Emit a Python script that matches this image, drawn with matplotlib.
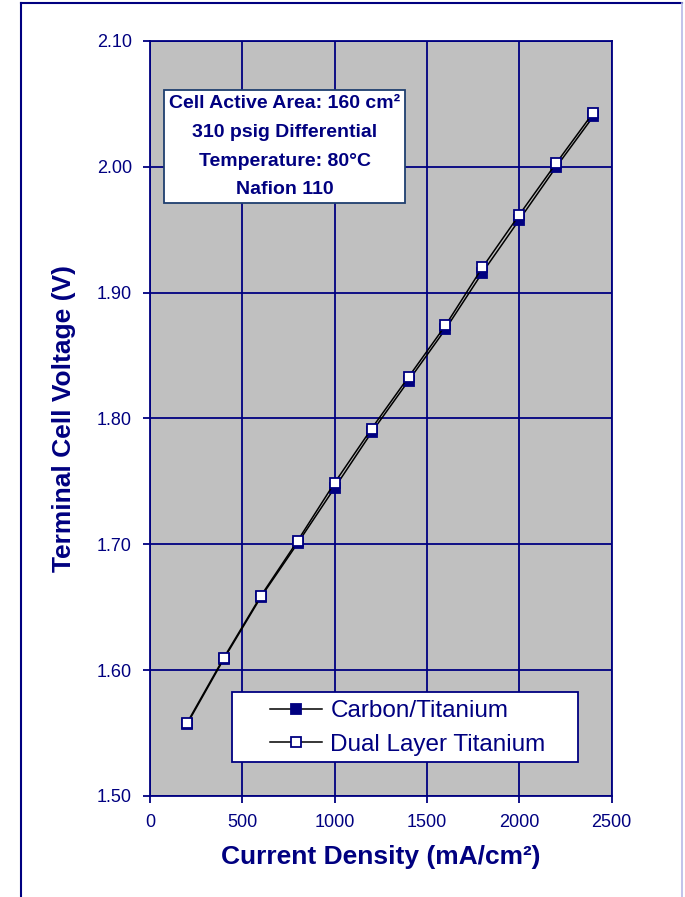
import matplotlib
matplotlib.use("Agg")
import matplotlib.pyplot as plt
from matplotlib.lines import Line2D
from matplotlib.patches import Rectangle

plt.rcParams["font.family"] = ["Liberation Sans", "DejaVu Sans"]

NAVY = "#000080"

current = [200, 400, 600, 800, 1000, 1200, 1400, 1600, 1800, 2000, 2200, 2400]
carbon_ti = [1.557, 1.609, 1.658, 1.701, 1.745, 1.789, 1.830, 1.871, 1.916, 1.958, 2.000, 2.040]
dual_ti = [1.558, 1.610, 1.659, 1.703, 1.749, 1.792, 1.833, 1.874, 1.920, 1.962, 2.003, 2.043]

x_ticks = [0, 500, 1000, 1500, 2000, 2500]
y_ticks = [1.50, 1.60, 1.70, 1.80, 1.90, 2.00, 2.10]

info_lines = ["Cell Active Area: 160 cm\u00b2", "310 psig Differential",
              "Temperature: 80\u00b0C", "Nafion 110"]

fig = plt.figure(figsize=(6.85, 8.97), dpi=100)
ax = fig.add_axes([0.219, 0.1126, 0.674, 0.8417])

# outer frame of the original chart
fig.add_artist(Line2D([0.031, 0.031], [0.0, 0.9967], color=NAVY, lw=1.5))
fig.add_artist(Line2D([0.031, 0.996], [0.9967, 0.9967], color=NAVY, lw=1.5))
fig.add_artist(Line2D([0.996, 0.996], [0.0, 0.9967], color="#b8b8e8", lw=1.2))

ax.set_facecolor("#c0c0c0")
ax.set_xlim(0, 2500)
ax.set_ylim(1.50, 2.10)
ax.set_xticks(x_ticks)
ax.set_yticks(y_ticks)
ax.set_yticklabels([f"{v:.2f}" for v in y_ticks])
ax.grid(True, color=NAVY, lw=1.3, zorder=1)
ax.set_axisbelow(True)
for sp in ax.spines.values():
    sp.set_color(NAVY)
    sp.set_linewidth(1.3)
ax.tick_params(direction="out", color=NAVY, labelcolor=NAVY, labelsize=13,
               length=5, width=1.3, pad=8)

ax.plot(current, carbon_ti, color="black", lw=1.1, marker="s", ms=7,
        mfc=NAVY, mec=NAVY, mew=1.3, zorder=3, label="Carbon/Titanium")
ax.plot(current, dual_ti, color="black", lw=1.1, marker="s", ms=7,
        mfc="white", mec=NAVY, mew=1.3, zorder=4, label="Dual Layer Titanium")

ax.set_xlabel("Current Density (mA/cm\u00b2)", color=NAVY, fontsize=19,
              fontweight="bold", labelpad=10)
ax.set_ylabel("Terminal Cell Voltage (V)", color=NAVY, fontsize=19,
              fontweight="bold", labelpad=15)

ax.text(0.292, 0.860, "\n".join(info_lines), transform=ax.transAxes,
        ha="center", va="center", color=NAVY, fontsize=14, fontweight="bold",
        linespacing=1.9, zorder=6,
        bbox=dict(boxstyle="square,pad=0.25", fc="white", ec="#1f3f6f", lw=1.3))

# legend box drawn separately so the handles sit inset like the original
ax.add_patch(Rectangle((0.1775, 0.045), 0.749, 0.0927, transform=ax.transAxes,
                       fc="white", ec=NAVY, lw=1.3, zorder=6))
leg = ax.legend(loc="upper left", bbox_to_anchor=(0.26, 0.127), fontsize=17.5,
                frameon=False, handlelength=2.15, handletextpad=0.33,
                borderpad=0, labelspacing=0.47, borderaxespad=0)
for t in leg.get_texts():
    t.set_color(NAVY)
leg.set_zorder(7)

fig.savefig("out.png", dpi=100)
